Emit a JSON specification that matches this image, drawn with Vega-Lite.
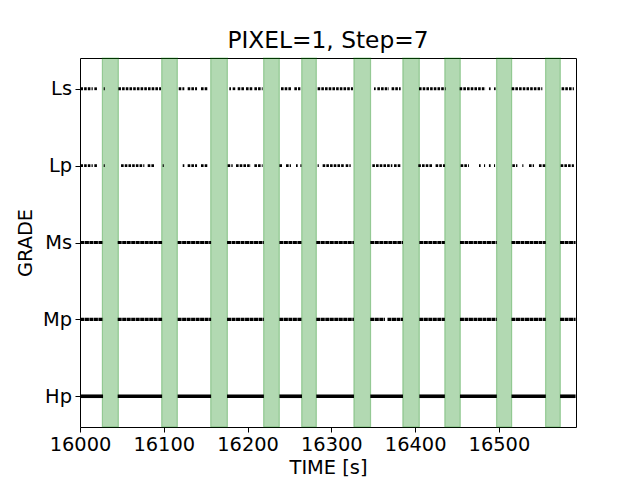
{
  "$schema": "https://vega.github.io/schema/vega-lite/v6.json",
  "width": 496,
  "height": 369,
  "autosize": {"type": "none"},
  "padding": {"left": 80, "top": 58, "right": 64, "bottom": 53},
  "background": "white",
  "title": {"text": "PIXEL=1, Step=7", "font": "DejaVu Sans", "fontSize": 23.3, "fontWeight": "normal", "color": "#000", "anchor": "middle", "offset": 4},
  "datasets": {
    "bands": [
      {"t0": 16026.7, "t1": 16045.8},
      {"t0": 16097.5, "t1": 16116.2},
      {"t0": 16156.0, "t1": 16175.9},
      {"t0": 16219.2, "t1": 16237.9},
      {"t0": 16264.6, "t1": 16282.1},
      {"t0": 16326.9, "t1": 16346.8},
      {"t0": 16385.3, "t1": 16405.0},
      {"t0": 16435.4, "t1": 16453.9},
      {"t0": 16497.2, "t1": 16515.2},
      {"t0": 16555.7, "t1": 16573.3}
    ],
    "dense": [
      {"g": "Ms", "t0": 16000.5, "t1": 16027.5}, {"g": "Ms", "t0": 16045, "t1": 16098}, {"g": "Ms", "t0": 16116.5, "t1": 16156.5}, {"g": "Ms", "t0": 16175.5, "t1": 16219.5}, {"g": "Ms", "t0": 16238, "t1": 16265}, {"g": "Ms", "t0": 16282, "t1": 16327}, {"g": "Ms", "t0": 16346.5, "t1": 16385.5}, {"g": "Ms", "t0": 16405, "t1": 16435.5}, {"g": "Ms", "t0": 16453.5, "t1": 16497.5}, {"g": "Ms", "t0": 16515, "t1": 16556}, {"g": "Ms", "t0": 16573, "t1": 16591.5},
      {"g": "Mp", "t0": 16000.5, "t1": 16027.5}, {"g": "Mp", "t0": 16045, "t1": 16098}, {"g": "Mp", "t0": 16116.5, "t1": 16156.5}, {"g": "Mp", "t0": 16175.5, "t1": 16219.5}, {"g": "Mp", "t0": 16238, "t1": 16265}, {"g": "Mp", "t0": 16282, "t1": 16327}, {"g": "Mp", "t0": 16346.5, "t1": 16364}, {"g": "Mp", "t0": 16367, "t1": 16385.5}, {"g": "Mp", "t0": 16405, "t1": 16435.5}, {"g": "Mp", "t0": 16453.5, "t1": 16497.5}, {"g": "Mp", "t0": 16515, "t1": 16556}, {"g": "Mp", "t0": 16573, "t1": 16591.5}
    ],
    "solid": [
      {"g": "Hp", "t0": 16000.5, "t1": 16027.5}, {"g": "Hp", "t0": 16045, "t1": 16098}, {"g": "Hp", "t0": 16116.5, "t1": 16156.5}, {"g": "Hp", "t0": 16175.5, "t1": 16219.5}, {"g": "Hp", "t0": 16238, "t1": 16265}, {"g": "Hp", "t0": 16282, "t1": 16327}, {"g": "Hp", "t0": 16346.5, "t1": 16385.5}, {"g": "Hp", "t0": 16405, "t1": 16435.5}, {"g": "Hp", "t0": 16453.5, "t1": 16497.5}, {"g": "Hp", "t0": 16515, "t1": 16556}, {"g": "Hp", "t0": 16573, "t1": 16591.5}
    ],
    "sparse": [
      {"g": "Ls", "t0": 16000.5, "t1": 16015.2}, {"g": "Ls", "t0": 16017.1, "t1": 16021.1}, {"g": "Ls", "t0": 16028.3, "t1": 16029.6}, {"g": "Ls", "t0": 16045.8, "t1": 16096.7}, {"g": "Ls", "t0": 16117.8, "t1": 16124.5}, {"g": "Ls", "t0": 16128.5, "t1": 16139.7}, {"g": "Ls", "t0": 16144.4, "t1": 16153.2}, {"g": "Ls", "t0": 16178.2, "t1": 16180.2}, {"g": "Ls", "t0": 16182.2, "t1": 16186.2}, {"g": "Ls", "t0": 16188.2, "t1": 16196.1}, {"g": "Ls", "t0": 16198.1, "t1": 16206.1}, {"g": "Ls", "t0": 16208.1, "t1": 16218.0}, {"g": "Ls", "t0": 16239.9, "t1": 16251.8}, {"g": "Ls", "t0": 16255.8, "t1": 16263.0}, {"g": "Ls", "t0": 16283.6, "t1": 16325.8}, {"g": "Ls", "t0": 16350.9, "t1": 16352.9}, {"g": "Ls", "t0": 16354.9, "t1": 16368.8}, {"g": "Ls", "t0": 16371.9, "t1": 16382.7}, {"g": "Ls", "t0": 16404.6, "t1": 16436.4}, {"g": "Ls", "t0": 16453.1, "t1": 16484.1}, {"g": "Ls", "t0": 16488.1, "t1": 16490.1}, {"g": "Ls", "t0": 16494.1, "t1": 16496.1}, {"g": "Ls", "t0": 16515.2, "t1": 16551.8}, {"g": "Ls", "t0": 16574.8, "t1": 16589.5},
      {"g": "Lp", "t0": 16000.5, "t1": 16015.2}, {"g": "Lp", "t0": 16017.1, "t1": 16021.1}, {"g": "Lp", "t0": 16028.3, "t1": 16029.6}, {"g": "Lp", "t0": 16049.0, "t1": 16076.8}, {"g": "Lp", "t0": 16080.8, "t1": 16088.7}, {"g": "Lp", "t0": 16098.7, "t1": 16100.0}, {"g": "Lp", "t0": 16122.6, "t1": 16124.5}, {"g": "Lp", "t0": 16128.5, "t1": 16139.7}, {"g": "Lp", "t0": 16144.4, "t1": 16153.2}, {"g": "Lp", "t0": 16176.2, "t1": 16182.2}, {"g": "Lp", "t0": 16186.2, "t1": 16204.1}, {"g": "Lp", "t0": 16208.1, "t1": 16218.0}, {"g": "Lp", "t0": 16238.0, "t1": 16241.9}, {"g": "Lp", "t0": 16245.9, "t1": 16251.8}, {"g": "Lp", "t0": 16257.8, "t1": 16259.8}, {"g": "Lp", "t0": 16263.0, "t1": 16264.3}, {"g": "Lp", "t0": 16283.6, "t1": 16285.0}, {"g": "Lp", "t0": 16289.6, "t1": 16315.1}, {"g": "Lp", "t0": 16317.1, "t1": 16323.1}, {"g": "Lp", "t0": 16348.9, "t1": 16372.8}, {"g": "Lp", "t0": 16374.8, "t1": 16382.7}, {"g": "Lp", "t0": 16403.8, "t1": 16420.4}, {"g": "Lp", "t0": 16424.4, "t1": 16435.6}, {"g": "Lp", "t0": 16454.3, "t1": 16464.2}, {"g": "Lp", "t0": 16476.2, "t1": 16478.2}, {"g": "Lp", "t0": 16482.2, "t1": 16483.5}, {"g": "Lp", "t0": 16488.1, "t1": 16490.1}, {"g": "Lp", "t0": 16494.1, "t1": 16495.4}, {"g": "Lp", "t0": 16516.0, "t1": 16522.0}, {"g": "Lp", "t0": 16527.9, "t1": 16529.2}, {"g": "Lp", "t0": 16535.9, "t1": 16541.9}, {"g": "Lp", "t0": 16547.8, "t1": 16555.8}, {"g": "Lp", "t0": 16573.7, "t1": 16589.5}
    ]
  },
  "layer": [
    {
      "data": {"name": "bands"},
      "mark": {"type": "rect", "fill": "green", "fillOpacity": 0.3, "stroke": "green", "strokeOpacity": 0.3, "strokeWidth": 1.2},
      "encoding": {
        "x": {"field": "t0", "type": "quantitative", "scale": {"domain": [16000, 16592], "nice": false, "zero": false}, "title": "TIME [s]", "axis": {"values": [16000, 16100, 16200, 16300, 16400, 16500], "format": "d", "labelFlush": false, "labelOverlap": false, "titlePadding": 4.5}},
        "x2": {"field": "t1"}
      }
    },
    {
      "data": {"name": "dense"},
      "mark": {"type": "rule", "color": "#000", "strokeWidth": 3.2, "strokeDash": [4, 0.5]},
      "encoding": {
        "x": {"field": "t0", "type": "quantitative"},
        "x2": {"field": "t1"},
        "y": {"field": "g", "type": "nominal", "scale": {"type": "point", "domain": ["Ls", "Lp", "Ms", "Mp", "Hp"], "padding": 0.4}, "title": "GRADE", "axis": {"titlePadding": 7}}
      }
    },
    {
      "data": {"name": "solid"},
      "mark": {"type": "rule", "color": "#000", "strokeWidth": 3.6},
      "encoding": {
        "x": {"field": "t0", "type": "quantitative"},
        "x2": {"field": "t1"},
        "y": {"field": "g", "type": "nominal"}
      }
    },
    {
      "data": {"name": "sparse"},
      "mark": {"type": "rule", "color": "#000", "strokeWidth": 2.8, "strokeDash": [2.6, 1.1]},
      "encoding": {
        "x": {"field": "t0", "type": "quantitative"},
        "x2": {"field": "t1"},
        "y": {"field": "g", "type": "nominal"}
      }
    }
  ],
  "config": {
    "view": {"stroke": "#000", "strokeWidth": 1},
    "axis": {"domain": false, "grid": false, "ticks": true, "tickColor": "#000", "tickSize": 5, "tickWidth": 1, "labelColor": "#000", "labelFont": "DejaVu Sans", "labelFontSize": 19.4, "labelPadding": 3.5, "titleFont": "DejaVu Sans", "titleFontSize": 19.4, "titleFontWeight": "normal", "titleColor": "#000"}
  }
}
